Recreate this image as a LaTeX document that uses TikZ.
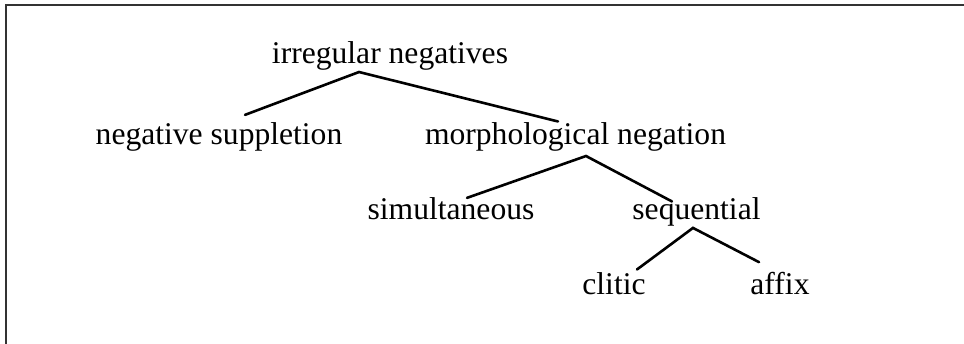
\documentclass[tikz,border=0pt]{standalone}
\usepackage{fontspec}
\setmainfont{Liberation Serif}
\usetikzlibrary{positioning}

\begin{document}
\begin{tikzpicture}[x=1pt, y=-1pt,
    word/.style={inner sep=0pt, anchor=base, font=\fontsize{31.6}{38}\selectfont},
    branch/.style={line width=2.6pt, line cap=round}]

  % frame (only its left and top edges lie inside the picture)
  \useasboundingbox (0, 0) rectangle (964, 344);
  \clip (0, 0) rectangle (964, 344);
  \draw [line width=2pt, black!80] (6, 5) rectangle (990, 370);

  % words of the tree
  \node [word] (irreg)  at (390, 64)    {irregular negatives};
  \node [word] (suppl)  at (219, 145)   {negative suppletion};
  \node [word] (morph)  at (575.5, 145) {morphological negation};
  \node [word] (simult) at (451, 220)   {simultaneous};
  \node [word] (seq)    at (696.5, 220) {sequential};
  \node [word] (clitic) at (614, 295)   {clitic};
  \node [word] (affix)  at (780, 295)   {affix};

  % branches
  \draw [branch] ([xshift=26pt, yshift=8pt]suppl.north) -- ([xshift=-31pt, yshift=-1pt]irreg.south)
    -- ([xshift=-17.5pt, yshift=1.4pt]morph.north);
  \draw [branch] ([xshift=16pt]simult.north) -- ([xshift=10.5pt, yshift=-4pt]morph.south)
    -- ([xshift=-24.5pt, yshift=-3.6pt]seq.north);
  \draw [branch] ([xshift=23pt, yshift=3.4pt]clitic.north) -- ([xshift=-3.5pt, yshift=-1pt]seq.south)
    -- ([xshift=-21pt, yshift=10.4pt]affix.north);
\end{tikzpicture}
\end{document}
